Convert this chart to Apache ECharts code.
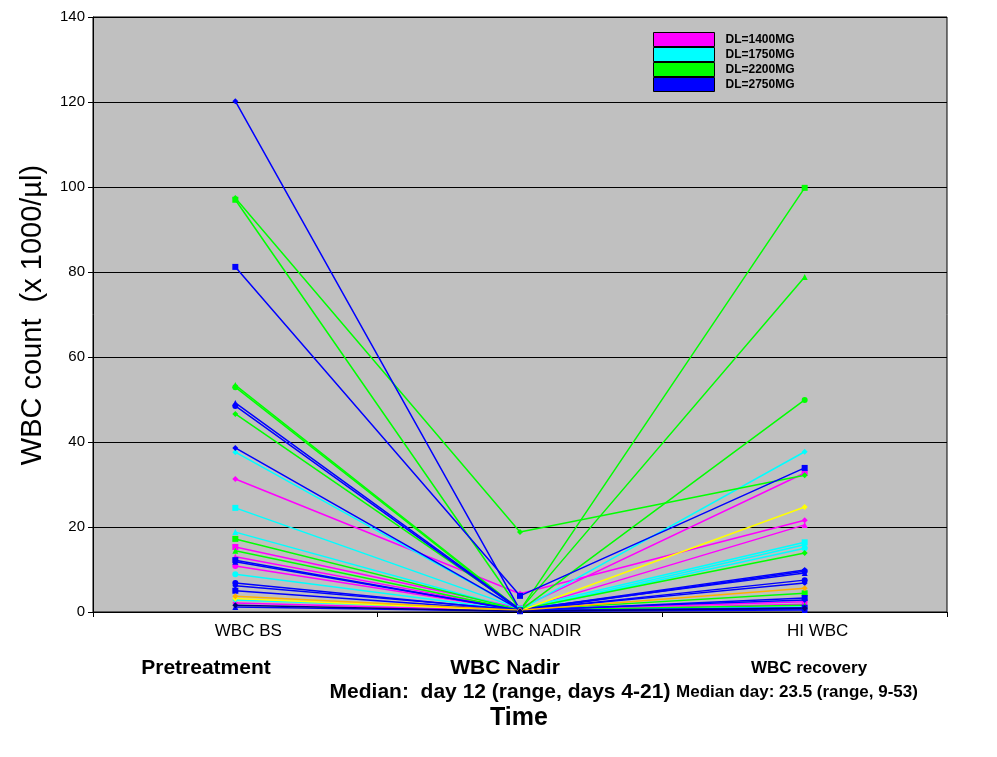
<!DOCTYPE html>
<html>
<head>
<meta charset="utf-8">
<script src="https://cdn.jsdelivr.net/npm/echarts@6/dist/echarts.min.js"></script>
<style>html,body{margin:0;padding:0;background:#fff}#c{width:997px;height:757px}</style>
</head>
<body>
<div id="c"></div>
<script>
const categories = ['WBC BS', 'WBC NADIR', 'HI WBC'];
const yTicks = { min: 0, max: 140, interval: 20 };
// each row: [pretreatment, nadir, recovery]
const dl1400 = [[31.3, 4.3, 21.6], [15.3, 0.9, 32.7], [13.0, 0.5, 20.5], [10.8, 0.4, 2.4], [2.1, 0.3, 1.8]];
const dl1750 = [[37.6, 0.5, 37.7], [24.5, 0.8, 16.4], [18.8, 0.4, 15.8], [8.9, 0.3, 15.0], [2.8, 0.5, 1.2]];
const dl2200 = [[97.4, 18.8, 32.2], [97.0, 0.4, 99.8], [53.4, 0.5, 78.8], [52.9, 0.3, 49.9], [46.6, 0.6, 13.9], [17.2, 0.5, 4.4], [14.4, 0.4, 1.6]];
const dl2750 = [[120.2, 0.5, 9.9], [81.2, 3.8, 33.9], [49.2, 0.6, 9.2], [48.5, 0.4, 7.5], [38.6, 0.5, 6.8], [12.2, 0.3, 3.3], [11.8, 0.4, 0.7], [6.8, 0.3, 9.6], [6.2, 0.5, 2.8], [5.0, 0.3, 1.0], [1.2, 0.2, 0.5]];
const otherYellow = [[3.2, 0.3, 24.7]];
const otherOrange = [[3.7, 0.4, 5.6]];
const otherDark = [[1.6, 0.2, 0.9]];
const legendNames = ['DL=1400MG', 'DL=1750MG', 'DL=2200MG', 'DL=2750MG'];

const groups = [
  { name: 'DL=1400MG', color: '#ff00ff', rows: dl1400 },
  { name: 'DL=1750MG', color: '#00ffff', rows: dl1750 },
  { name: 'DL=2200MG', color: '#00ff00', rows: dl2200 },
  { name: 'DL=2750MG', color: '#0000ff', rows: dl2750 },
  { name: 'other1', color: '#ffff00', rows: otherYellow },
  { name: 'other2', color: '#ffb000', rows: otherOrange },
  { name: 'other3', color: '#000080', rows: otherDark }
];
const symbols = ['diamond', 'rect', 'triangle', 'circle'];
const series = [];
groups.forEach(g => {
  g.rows.forEach((r, i) => {
    series.push({
      name: g.name,
      type: 'line',
      data: r,
      symbol: symbols[i % symbols.length],
      symbolSize: 6,
      showSymbol: true,
      lineStyle: { color: g.color, width: 1.5 },
      itemStyle: { color: g.color, borderWidth: 0 },
      emphasis: { disabled: true }
    });
  });
});

const chart = echarts.init(document.getElementById('c'));
const font = 'Liberation Sans, Arial, sans-serif';
function txt(t, x, y, f) {
  return { type: 'text', x: x, y: y, style: { text: t, x: 0, y: 0, align: 'center', verticalAlign: 'middle', font: f, fill: '#000' } };
}
const big = 'bold 21px Liberation Sans, Arial';
const small = 'bold 17px Liberation Sans, Arial';
chart.setOption({
  animation: false,
  backgroundColor: '#fff',
  grid: { left: 93, right: 50, top: 17, bottom: 145, show: true, backgroundColor: '#c0c0c0', borderColor: '#000', borderWidth: 1 },
  legend: {
    data: legendNames,
    orient: 'vertical',
    left: 653, top: 32, padding: 0,
    itemWidth: 61, itemHeight: 14, itemGap: 0,
    icon: 'rect',
    itemStyle: { borderColor: '#000', borderWidth: 1 },
    textStyle: { fontFamily: font, fontWeight: 'bold', fontSize: 12, color: '#000', padding: [0, 0, 0, 6], lineHeight: 15 },
    selectedMode: false
  },
  xAxis: {
    type: 'category',
    data: categories,
    boundaryGap: true,
    axisLine: { lineStyle: { color: '#000', width: 1 } },
    axisTick: { show: true, length: 5, lineStyle: { color: '#000' } },
    axisLabel: { color: '#000', fontFamily: font, fontSize: 17, margin: 11, padding: [0, 0, 0, 26] },
    splitLine: { show: false }
  },
  yAxis: {
    type: 'value',
    min: yTicks.min, max: yTicks.max, interval: yTicks.interval,
    axisLine: { show: true, lineStyle: { color: '#000', width: 1 } },
    axisTick: { show: true, length: 5, lineStyle: { color: '#000' } },
    axisLabel: { color: '#000', fontFamily: font, fontSize: 15, margin: 8 },
    splitLine: { show: true, lineStyle: { color: '#000', width: 1 } }
  },
  graphic: [
    { type: 'text', x: 33, y: 315, rotation: Math.PI / 2, style: { text: 'WBC count  (x 1000/\u00b5l)', x: 0, y: 0, align: 'center', verticalAlign: 'middle', font: '29px Liberation Sans, Arial', fill: '#000' } },
    txt('Pretreatment', 206, 668, big),
    txt('WBC Nadir', 505, 668, big),
    txt('Median:  day 12 (range, days 4-21)', 500, 692, big),
    txt('WBC recovery', 809, 668, small),
    txt('Median day: 23.5 (range, 9-53)', 797, 692, small),
    txt('Time', 519, 718, 'bold 25px Liberation Sans, Arial')
  ],
  series: series
});
</script>
</body>
</html>
